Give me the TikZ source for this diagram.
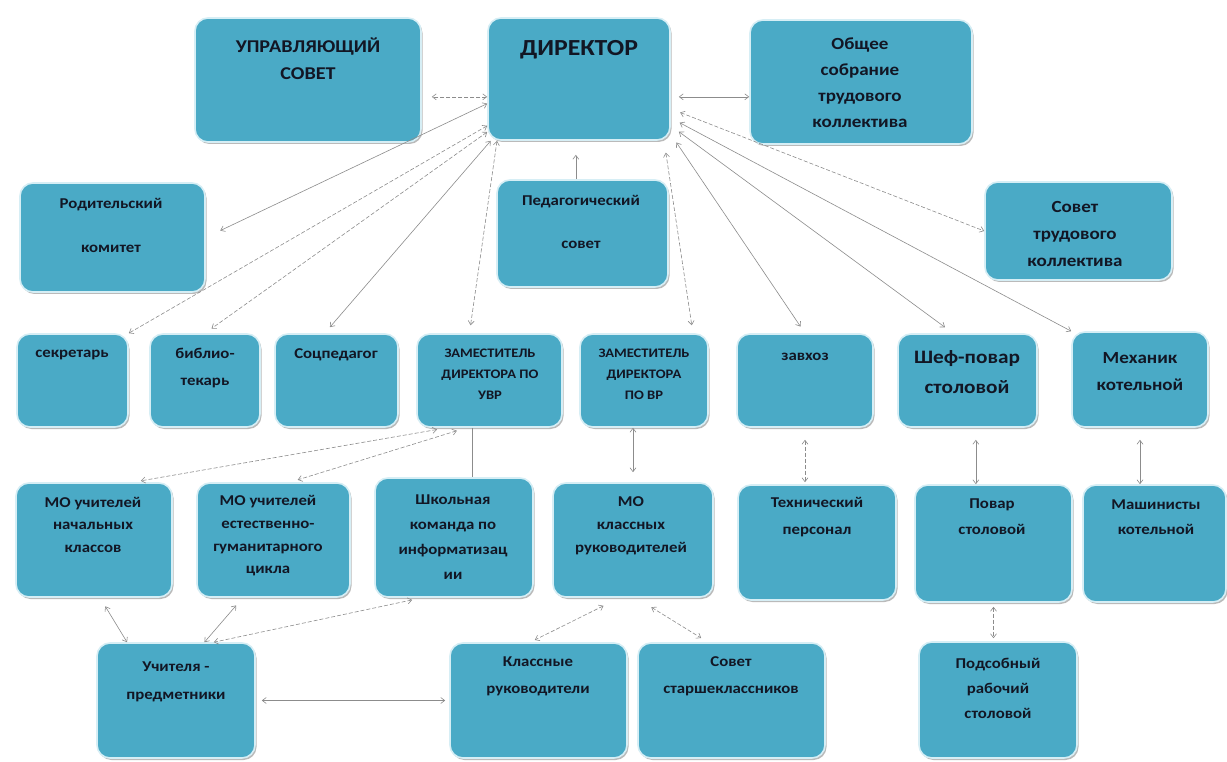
\documentclass[tikz,border=0pt]{standalone}
\usepackage{fontspec}
\setmainfont{Carlito}[FakeStretch=1.12]
\usetikzlibrary{arrows.meta,shadows,calc}
\definecolor{boxfill}{RGB}{74,170,198}
\definecolor{boxedge}{RGB}{214,238,245}
\definecolor{txtcol}{RGB}{18,22,36}
\definecolor{linegray}{RGB}{140,140,140}
\tikzset{
  box/.style={rectangle, rounded corners=13pt, fill=boxfill, draw=boxedge, line width=1.6pt, inner sep=0pt,
    drop shadow={shadow xshift=1.5pt, shadow yshift=-2pt, opacity=0.45, fill=black!60}},
  lbl/.style={inner sep=0pt, align=center, text=txtcol},
  cn/.style={draw=linegray, line width=0.6pt, {Straight Barb[length=4pt,width=6pt]}-{Straight Barb[length=4pt,width=6pt]}},
  dsh/.style={cn, dash pattern=on 4pt off 2pt},
}
\newcommand\mkbox[5]{\node[box, minimum width={(#4-#2)*1pt}, minimum height={(#5-#3)*1pt}] (#1) at ({(#2+#4)/2},{(#3+#5)/2}) {};}
\newcommand\mklbl[6]{\node[lbl, font=\bfseries\fontsize{#4}{#5}\selectfont] (#1) at (#2,#3) {#6};}
\begin{document}
\begin{tikzpicture}[x=1pt,y=-1pt]
\useasboundingbox (0,0) rectangle (1227,762);
\fill[white] (0,0) rectangle (1227,762);
\clip (0,0) rectangle (1227,762);
% boxes
\mkbox{upr}{195}{18}{421}{142}
\mkbox{dir}{488}{18}{670}{140}
\mkbox{obsh}{750}{20}{972}{144}
\mkbox{rod}{20}{183}{205}{292}
\mkbox{ped}{497}{180}{668}{287}
\mkbox{stk}{985}{182}{1172}{280}
\mkbox{sekr}{17}{334}{128}{427}
\mkbox{bibl}{150}{334}{260}{427}
\mkbox{socp}{275}{334}{398}{427}
\mkbox{zuvr}{417}{334}{562}{427}
\mkbox{zvr}{580}{334}{708}{427}
\mkbox{zavh}{737}{334}{873}{427}
\mkbox{shef}{898}{334}{1037}{427}
\mkbox{mekh}{1072}{332}{1208}{427}
\mkbox{mon}{16}{483}{172}{597}
\mkbox{moe}{197}{483}{350}{597}
\mkbox{shk}{375}{478}{533}{597}
\mkbox{mok}{553}{483}{713}{597}
\mkbox{tech}{738}{485}{896}{600}
\mkbox{povar}{915}{485}{1072}{602}
\mkbox{mash}{1083}{485}{1226}{602}
\mkbox{uch}{97}{643}{255}{758}
\mkbox{kl}{450}{643}{627}{758}
\mkbox{sst}{638}{643}{825}{758}
\mkbox{pods}{919}{642}{1077}{758}
% labels
\mklbl{uprT}{308}{58.5}{18}{27}{УПРАВЛЯЮЩИЙ\\СОВЕТ}
\mklbl{dirT}{579}{50}{23}{28}{ДИРЕКТОР}
\mklbl{obshT}{860}{83}{17}{26}{Общее\\собрание\\трудового\\коллектива}
\mklbl{rodT}{111}{225}{15}{44}{Родительский\\комитет}
\mklbl{pedT}{581}{221.5}{15}{43}{Педагогический\\совет}
\mklbl{stkT}{1075}{234}{17}{27}{Совет\\трудового\\коллектива}
\mklbl{sekrT}{72}{355}{15}{22}{секретарь}
\mklbl{biblT}{205}{368.5}{15}{27}{библио-\\текарь}
\mklbl{socpT}{336}{355}{15}{22}{Соцпедагог}
\mklbl{zuvrT}{490}{374}{13}{21}{ЗАМЕСТИТЕЛЬ\\ДИРЕКТОРА ПО\\УВР}
\mklbl{zvrT}{644}{374}{13}{21}{ЗАМЕСТИТЕЛЬ\\ДИРЕКТОРА\\ПО ВР}
\mklbl{zavhT}{805}{357}{15}{22}{завхоз}
\mklbl{shefT}{967}{372}{19}{30}{Шеф-повар\\столовой}
\mklbl{mekhT}{1140}{371.5}{17}{27}{Механик\\котельной}
\mklbl{monT}{93}{524.5}{15}{22.5}{МО учителей\\начальных\\классов}
\mklbl{moeT}{268}{536}{15}{22.7}{МО учителей\\естественно-\\гуманитарного\\цикла}
\mklbl{shkT}{453}{537.5}{15}{25}{Школьная\\команда по\\информатизац\\ии}
\mklbl{mokT}{631}{526}{15}{23}{МО\\классных\\руководителей}
\mklbl{techT}{817}{517.5}{15}{27}{Технический\\персонал}
\mklbl{povarT}{992}{517}{15}{26}{Повар\\столовой}
\mklbl{mashT}{1156}{517.5}{15}{25}{Машинисты\\котельной}
\mklbl{uchT}{176}{682}{15}{28}{Учителя -\\предметники}
\mklbl{klT}{538}{676.5}{15}{27}{Классные\\руководители}
\mklbl{sstT}{731}{676.5}{15}{27}{Совет\\старшеклассников}
\mklbl{podsT}{998}{688}{15}{25}{Подсобный\\рабочий\\столовой}
% connectors from director
\draw[dsh, shorten >=10pt] (dir.191) -- (dir.191 -| upr.east);
\draw[cn, shorten <=8pt] (dir.-11) -- (dir.-11 -| obsh.west);
\draw[cn, shorten >=16pt] (dir.195) -- (rod.east);
\draw[dsh] (dir.207) -- (sekr.north east);
\draw[dsh, shorten >=8pt] (dir.210) -- (bibl.north);
\draw[cn, shorten >=8pt] (dir.215) -- (socp.104);
\draw[dsh, shorten >=8pt] (dir.217) -- (zuvr.113);
\draw[draw=linegray, line width=0.6pt, -{Straight Barb[length=4pt,width=6pt]}, shorten >=14pt] (ped.97) -- (ped.97 |- dir.south);
\draw[dsh, shorten <=12pt, shorten >=8pt] (dir.-36) -- (zvr.44);
\draw[cn, shorten <=10pt, shorten >=8pt] (dir.-31) -- (zavh.north);
\draw[cn, shorten <=10pt, shorten >=10pt] (dir.-27) -- (shef.107);
\draw[cn, shorten <=10pt] (dir.-23) -- (mekh.north west);
\draw[dsh, shorten <=10pt] (dir.-18) -- (stk.west);
% second row to third row
\draw[dsh, shorten <=10pt, shorten >=8pt] (zuvr.228) -- (mon.56);
\draw[dsh, shorten <=10pt, shorten >=8pt] (zuvr.244) -- (moe.74);
\draw[draw=linegray, line width=0.6pt] (zuvr.250) -- (zuvr.250 |- shk.north);
\draw[cn, shorten <=10pt] (mok.north) -- (mok.north |- zvr.south);
\draw[dsh, shorten <=12pt, shorten >=2pt] (zavh.south) -- (zavh.south |- tech.north);
\draw[cn, shorten <=12pt] (shef.-80) -- (shef.-80 |- povar.north);
\draw[cn, shorten <=12pt] (mekh.south) -- (mekh.south |- mash.north);
% third row to fourth row
\draw[dsh, shorten <=4pt, shorten >=3pt] (povar.south) -- (povar.south |- pods.north);
\draw[cn, shorten <=10pt] (mon.-84) -- (uch.130);
\draw[cn, shorten <=10pt] (moe.242) -- (uch.64);
\draw[dsh, shorten <=10pt] (shk.242) -- (uch.57);
\draw[cn, shorten <=6pt, shorten >=4pt] (uch.east) -- (uch.east -| kl.west);
\draw[dsh, shorten <=18pt, shorten >=5pt] (mok.257) -- (kl.98);
\draw[dsh, shorten <=18pt, shorten >=8pt] (mok.-87) -- (sst.112);
\end{tikzpicture}
\end{document}
